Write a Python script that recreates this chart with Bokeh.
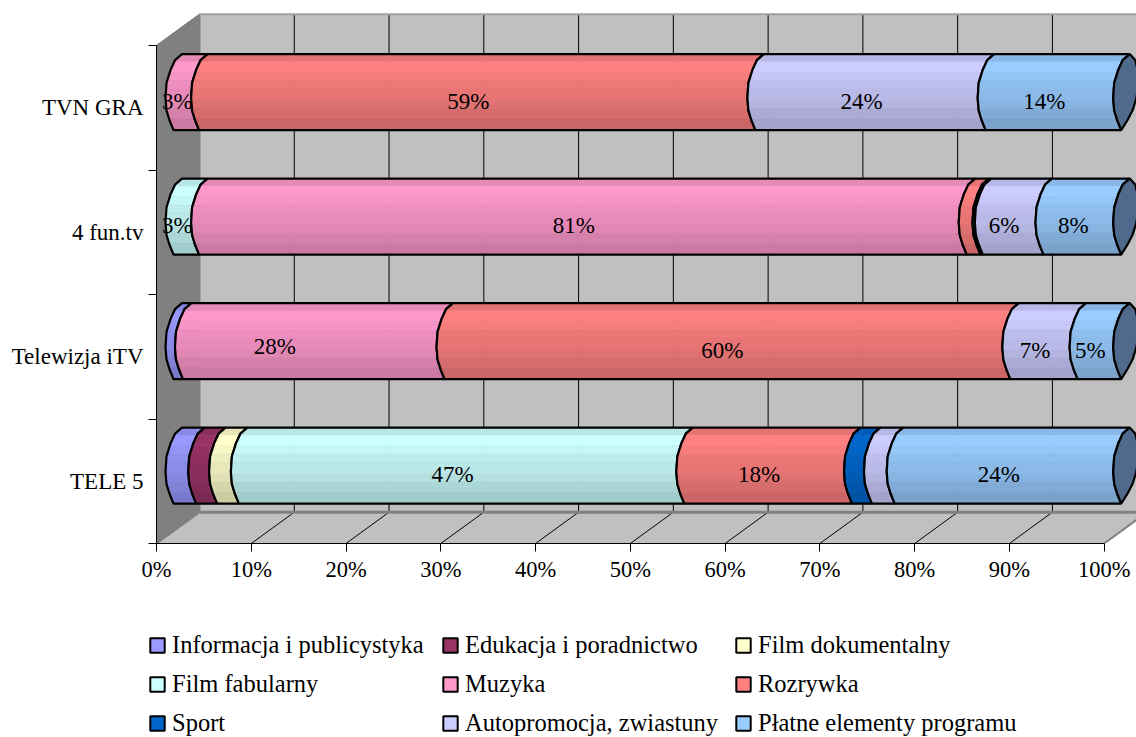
import numpy as np
from bokeh.plotting import figure
from bokeh.layouts import column
from bokeh.models import Range1d, FixedTicker, PrintfTickFormatter, Legend, LegendItem, LinearAxis
from bokeh.core.properties import value
from bokeh.embed import file_html
from bokeh.resources import INLINE

# ---- data -----
categories = ["TELE 5", "Telewizja iTV", "4 fun.tv", "TVN GRA"]
series_names = ["Informacja i publicystyka", "Edukacja i poradnictwo", "Film dokumentalny",
                "Film fabularny", "Muzyka", "Rozrywka", "Sport",
                "Autopromocja, zwiastuny", "Płatne elementy programu"]
series_colors = ["#9999FF", "#993366", "#FFFFCC", "#CCFFFF", "#FF99CC", "#FF8080",
                 "#0066CC", "#CCCCFF", "#99CCFF"]
informacja = [2.4, 1.0, 0.0, 0.0]
edukacja = [2.2, 0.0, 0.0, 0.0]
dokumentalny = [2.3, 0.0, 0.0, 0.0]
fabularny = [47.0, 0.0, 2.7, 0.0]
muzyka = [0.0, 27.6, 81.0, 2.7]
rozrywka = [17.7, 59.7, 1.45, 58.7]
sport = [2.1, 0.0, 0.25, 0.0]
autopromocja = [2.4, 7.1, 6.4, 24.3]
platne = [23.9, 4.6, 8.2, 14.3]
x_ticks = list(range(0, 101, 10))

all_series = [informacja, edukacja, dokumentalny, fabularny, muzyka, rozrywka, sport, autopromocja, platne]

# ---- layout constants ----
FONT = "Liberation Serif"
PX_X, PX_Y = 9.477, 124.5           # pixels per percent / per category
DEPTH_X, DEPTH_Y = 43 / PX_X, 31.3 / PX_Y
BAR_H = 76 / PX_Y
OFF_X = 22 / PX_X                   # cylinders stand halfway into the depth
X_MAX, Y_MAX = 980 / PX_X, 533 / PX_Y

# cylinder cross-section seen from the side: t from top to bottom, pixel bulge of the seam
prof_t = np.array([0, .08, .21, .38, .58, .74, .87, 1.0])
prof_l = np.array([3.5, -3.5, -8, -12, -13, -12, -9, -5]) / PX_X
prof_c = (3.5 - 8.5 * prof_t) / PX_X
prof_r = 2 * prof_c - prof_l
band_t = np.array([0, .10, .24, .35, .46, .61, .72, .85, 1.0])
band_shade = [.90, 1.0, .97, .93, .91, .88, .84, .80]


def seam(v, t):
    return v + OFF_X + np.interp(t, prof_t, prof_l)


def ypos(row, t):
    return row + 0.5 + DEPTH_Y / 2 + BAR_H / 2 - BAR_H * t


def shade(col, k):
    r, g, b = (int(col[i:i + 2], 16) for i in (1, 3, 5))
    return "#%02X%02X%02X" % (round(r * k), round(g * k), round(b * k))


p = figure(width=1136, height=610, output_backend="svg", toolbar_location=None,
           x_range=Range1d(0, X_MAX), y_range=Range1d(0, Y_MAX),
           min_border_left=156, min_border_right=0, min_border_top=10, min_border_bottom=67,
           x_axis_type=None, y_axis_type=None, background_fill_color="white",
           border_fill_color="white", outline_line_color=None, frame_align=False)
p.grid.visible = False

# ---- walls and floor -----
p.patch([0, DEPTH_X, DEPTH_X, 0], [4, 4 + DEPTH_Y, DEPTH_Y, 0], fill_color="#808080", line_color="#6E6E6E", line_width=1)
p.quad(left=DEPTH_X, right=DEPTH_X + 100, bottom=DEPTH_Y, top=4 + DEPTH_Y, fill_color="#C0C0C0", line_color=None)
p.patch([0, DEPTH_X, DEPTH_X + 100, 100], [0, DEPTH_Y, DEPTH_Y, 0], fill_color="#C0C0C0", line_color=None)
gx = [v for v in x_ticks if v > 0]
p.segment([v + DEPTH_X for v in gx], DEPTH_Y, [v + DEPTH_X for v in gx], 4 + DEPTH_Y, line_color="black", line_width=1)
p.segment(gx[:-1], 0, [v + DEPTH_X for v in gx[:-1]], DEPTH_Y, line_color="black", line_width=1)
p.segment([DEPTH_X], [DEPTH_Y], [DEPTH_X + 100], [DEPTH_Y], line_color="#808080", line_width=3)
p.segment([DEPTH_X], [DEPTH_Y], [DEPTH_X], [4 + DEPTH_Y], line_color="#808080", line_width=2)
p.segment([DEPTH_X], [4 + DEPTH_Y], [DEPTH_X + 100], [4 + DEPTH_Y], line_color="#A0A0A0", line_width=2)
p.segment([0, 100], [0, 0], [DEPTH_X, 100 + DEPTH_X], [DEPTH_Y, DEPTH_Y], line_color="#808080", line_width=2)
p.segment([0], [4], [DEPTH_X], [4 + DEPTH_Y], line_color="#808080", line_width=1)

# ---- cylinders -----
label_x, label_y, label_t, label_dx, label_dy = [], [], [], [], []
label_nudge = {"28%": (-30, -4), "60%": (4, 0)}
cum = np.zeros(len(categories))
fine_t = np.unique(np.concatenate([prof_t, band_t]))
for name, col, vals in zip(series_names, series_colors, all_series):
    vals = np.array(vals)
    outl_x, outl_y, band_x, band_y, band_c = [], [], [], [], []
    for row, v in enumerate(vals):
        if v <= 0:
            continue
        a, b = cum[row], cum[row] + v
        outl_x.append(list(seam(a, fine_t)) + list(seam(b, fine_t[::-1])))
        outl_y.append(list(ypos(row, fine_t)) + list(ypos(row, fine_t[::-1])))
        for k, s in enumerate(band_shade):
            tt = fine_t[(fine_t >= band_t[k]) & (fine_t <= band_t[k + 1])]
            band_x.append(list(seam(a, tt)) + list(seam(b, tt[::-1])))
            band_y.append(list(ypos(row, tt)) + list(ypos(row, tt[::-1])))
            band_c.append(shade(col, s))
        if v >= 2.6:
            txt = "%d%%" % round(v)
            ndx, ndy = label_nudge.get(txt, (0, 0))
            label_t.append(txt)
            label_x.append((a + b) / 2 + OFF_X)
            label_y.append(row + 0.5 + DEPTH_Y / 2)
            label_dx.append(-14 + ndx)
            label_dy.append(9 + ndy)
    p.patches(band_x, band_y, fill_color=band_c, line_color=band_c, line_width=0.5)
    p.patches(outl_x, outl_y, fill_color=None, line_color="black", line_width=2.2)
    cum = cum + vals

# end caps
cap_t = np.concatenate([fine_t, fine_t[::-1]])
cap_off = np.concatenate([np.interp(fine_t, prof_t, prof_l), np.interp(fine_t[::-1], prof_t, prof_r)])
cap_xs = [list(cum[row] + OFF_X + cap_off) for row in range(len(categories))]
cap_ys = [list(ypos(row, cap_t)) for row in range(len(categories))]
p.patches(cap_xs, cap_ys, fill_color="#4F6A8A", line_color="black", line_width=2.2)

# ---- value labels -----
p.text(x=label_x, y=label_y, text=label_t, x_offset=label_dx, y_offset=label_dy,
       text_align="center", text_baseline="middle", text_font=value(FONT),
       text_font_size="23px", text_color="black")

# ---- axes -----
xa = LinearAxis(ticker=FixedTicker(ticks=x_ticks), formatter=PrintfTickFormatter(format="%d%%"),
                bounds=(0, 100), major_tick_in=0, major_tick_out=8, minor_tick_line_color=None,
                major_label_text_font=FONT, major_label_text_font_size="22.5px", major_label_text_color="black",
                major_label_standoff=5, axis_line_color="black", major_tick_line_color="black")
p.add_layout(xa, "below")
ya = LinearAxis(ticker=FixedTicker(ticks=[i + 0.5 for i in range(4)], minor_ticks=[0, 1, 2, 3, 4]),
                bounds=(0, 4), major_tick_in=0, major_tick_out=0, minor_tick_in=0, minor_tick_out=8,
                major_tick_line_color=None, minor_tick_line_color="black",
                major_label_overrides={i + 0.5: c for i, c in enumerate(categories)},
                major_label_text_font=FONT, major_label_text_font_size="23px", major_label_text_color="black",
                major_label_standoff=5, axis_line_color="black")
p.add_layout(ya, "left")

# ---- legend (own strip under the chart) -----
q = figure(width=1136, height=127, output_backend="svg", toolbar_location=None,
           x_range=Range1d(0, 1), y_range=Range1d(0, 1), min_border=0,
           x_axis_type=None, y_axis_type=None, outline_line_color=None, frame_align=False)
q.grid.visible = False
legend_items = []
for name, col in zip(series_names, series_colors):
    r = q.quad(left=[np.nan], right=[np.nan], bottom=[np.nan], top=[np.nan],
               fill_color=col, line_color="black", line_width=2)
    legend_items.append(LegendItem(label=name, renderers=[r]))
legend = Legend(items=legend_items, ncols=3, orientation="horizontal", location=(148, 0),
                label_text_font=FONT, label_text_font_size="24.5px", label_text_color="black",
                glyph_width=18, glyph_height=18, label_standoff=6, label_width=258,
                spacing=11, padding=0, margin=0,
                border_line_color=None, background_fill_color=None, background_fill_alpha=0)
q.add_layout(legend)

open("out.html", "w").write(file_html(column(p, q, spacing=0), INLINE))
